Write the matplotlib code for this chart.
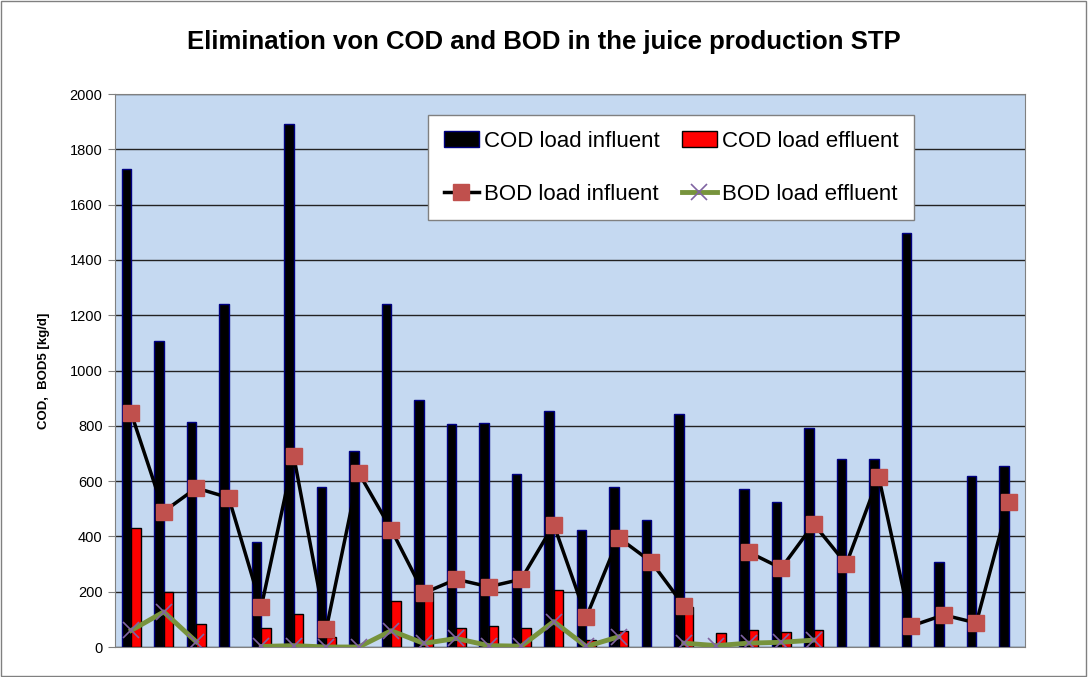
import numpy as np
import matplotlib
matplotlib.use("Agg")
import matplotlib.pyplot as plt
from matplotlib.patches import Rectangle

nan = np.nan
# 28 sampling days, values in kg/d
cod_in = [1730, 1105, 815, 1240, 380, 1890, 578, 710, 1240, 893, 808, 810, 625, 855,
          422, 580, 460, 842, nan, 570, 525, 793, 680, 680, 1497, 308, 618, 655]
cod_out = [430, 200, 85, nan, 68, 120, 38, nan, 168, 195, 70, 75, 68, 205,
           25, 57, nan, 145, 50, 62, 55, 62, nan, nan, nan, nan, nan, nan]
bod_in = [845, 490, 575, 540, 145, 690, 65, 630, 425, 195, 245, 218, 245, 443,
          108, 395, 308, 150, nan, 343, 285, 445, 300, 615, 76, 116, 87, 525]
bod_out = [60, 127, 19, nan, 2, 5, 0, 0, 59, 13, 31, 5, 3, 92,
           2, 37, nan, 14, 5, 14, 17, 25, nan, nan, nan, nan, nan, nan]

plt.rcParams['font.family'] = ['Liberation Sans', 'DejaVu Sans']

fig = plt.figure(figsize=(10.88, 6.77), dpi=100)
fig.patches.append(Rectangle((0.001, 0.001), 0.997, 0.997, transform=fig.transFigure,
                             fill=False, edgecolor='#808080', linewidth=1))
ax = fig.add_axes([0.1057, 0.0443, 0.8364, 0.8168])

x = np.arange(len(cod_in))
w = 0.29
ax.bar(x - w / 2, cod_in, w, color='black', edgecolor='#000080', linewidth=1,
       label='COD load influent', zorder=3)
ax.bar(x + w / 2, cod_out, w, color='#FF0000', edgecolor='black', linewidth=1,
       label='COD load effluent', zorder=3)
ax.plot(x, bod_in, color='black', linewidth=2.5, marker='s', markersize=11,
        markerfacecolor='#C0504D', markeredgecolor='#C0504D',
        label='BOD load influent', zorder=4)
ax.plot(x, bod_out, color='#77933C', linewidth=3.5, marker='x', markersize=11,
        markeredgecolor='#8064A2', markeredgewidth=1.2,
        label='BOD load effluent', zorder=4)

ax.set_xlim(-0.5, len(cod_in) - 0.5)
ax.set_ylim(0, 2000)
ax.set_yticks(range(0, 2001, 200))
ax.set_xticks([])
ax.set_facecolor('#C5D9F1')
ax.yaxis.grid(True, color='#222222', linewidth=1)
ax.set_axisbelow(True)
for s in ax.spines.values():
    s.set_color('#808080')
ax.tick_params(axis='y', labelsize=10.5, length=5, color='#808080', pad=4)

ax.set_ylabel('COD,  BOD5 [kg/d]', fontsize=9.5, fontweight='bold', labelpad=14)
fig.suptitle('Elimination von COD and BOD in the juice production STP',
             fontsize=18.5, fontweight='bold', x=0.5, y=0.955)

# lines come first in the handle list, bars after
h, l = ax.get_legend_handles_labels()
order = [2, 0, 3, 1]
leg = ax.legend([h[i] for i in order], [l[i] for i in order], ncol=2,
                loc='upper left', bbox_to_anchor=(0.344, 0.962), fontsize=16,
                fancybox=False, framealpha=1, edgecolor='#808080',
                labelspacing=1.45, handlelength=1.6, handletextpad=0.2,
                columnspacing=1.0, borderpad=0.7, borderaxespad=0)
leg.get_frame().set_linewidth(1)

fig.savefig('out.png', dpi=100)
